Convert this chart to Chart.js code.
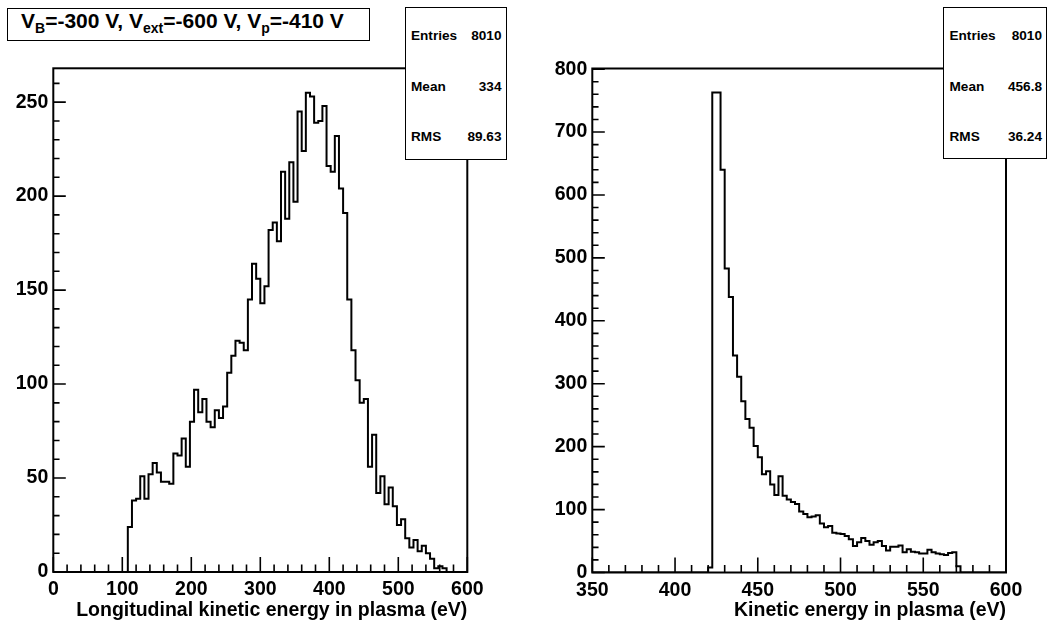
<!DOCTYPE html>
<html>
<head>
<meta charset="utf-8">
<script src="https://cdn.jsdelivr.net/npm/chart.js@4.4.0/dist/chart.umd.min.js"></script>
<style>
html,body{margin:0;padding:0;background:#fff;width:1048px;height:626px;overflow:hidden;font-family:"Liberation Sans",Arial,Helvetica,sans-serif;}
canvas{position:absolute;top:0;}
.box{position:absolute;background:#fff;border:1.5px solid #000;box-sizing:border-box;font-weight:bold;color:#000;z-index:2;}
.t{position:absolute;white-space:nowrap;line-height:1;}
.st{font-size:13.6px;}
</style>
</head>
<body>
<canvas id="cLeft" width="524" height="626" style="left:0"></canvas>
<canvas id="cRight" width="524" height="626" style="left:524px"></canvas>

<div class="box" style="left:7px;top:8px;width:363px;height:33px;">
  <span class="t" style="left:13px;top:1px;font-size:21px;">V<span style="font-size:14px;position:relative;top:5px;">B</span>=-300 V, V<span style="font-size:14px;position:relative;top:5px;">ext</span>=-600 V, V<span style="font-size:14px;position:relative;top:5px;">p</span>=-410 V</span>
</div>

<div class="box" style="left:404.5px;top:7px;width:102px;height:153px;" id="statsLeft"></div>
<div class="box" style="left:943px;top:7px;width:104px;height:152px;" id="statsRight"></div>

<script>
// ---------------- data ----------------
// Left histogram: longitudinal kinetic energy, 100 bins over [0, 600]
const leftRange = [0, 600];
const leftCounts = [
  0,0,0,0,0,0,0,0,0,0,
  0,0,0,0,0,0,0,0,24,38,
  39,51,39,52,58,53,48,48,47,63,
  62,71,56,80,97,85,92,80,77,86,
  82,88,106,115,123,122,118,145,164,156,
  143,152,182,186,176,213,188,218,197,245,
  224,255,253,239,240,248,216,213,232,204,
  191,145,118,102,90,92,56,73,42,51,
  36,45,35,25,28,18,13,17,11,14,
  10,7,2,3,2,0,0,0,0,0
];
const leftXTicks = [0, 100, 200, 300, 400, 500, 600];
const leftYTicks = [0, 50, 100, 150, 200, 250];
const leftYMax = 268;
const leftXTitle = 'Longitudinal kinetic energy in plasma (eV)';
const leftStats = [['Entries', '8010'], ['Mean', '334'], ['RMS', '89.63']];

// Right histogram: kinetic energy, 100 bins over [350, 600]
const rightRange = [350, 600];
const rightCounts = [
  0,0,0,0,0,0,0,0,0,0,
  0,0,0,0,0,0,0,0,0,0,
  0,0,0,0,0,0,0,0,8,763,
  763,640,483,438,345,311,272,244,230,201,
  183,156,161,140,123,153,122,116,112,109,
  97,93,88,89,91,78,72,74,63,62,
  61,58,53,42,48,55,50,44,48,50,
  42,35,41,41,43,32,37,33,32,30,
  30,36,32,30,29,28,31,32,10,0,
  0,0,0,0,0,0,0,0,0,0
];
const rightXTicks = [350, 400, 450, 500, 550, 600];
const rightYTicks = [0, 100, 200, 300, 400, 500, 600, 700, 800];
const rightYMax = 801;
const rightXTitle = 'Kinetic energy in plasma (eV)';
const rightStats = [['Entries', '8010'], ['Mean', '456.8'], ['RMS', '36.24']];

// ---------------- helpers ----------------
Chart.defaults.font.family = 'Liberation Sans, Arial, Helvetica, sans-serif';
Chart.defaults.font.size = 19.5;
Chart.defaults.font.weight = 'bold';
Chart.defaults.color = '#000';

function histPoints(range, counts) {
  const w = (range[1] - range[0]) / counts.length;
  const pts = counts.map((c, k) => ({x: range[0] + k * w, y: c}));
  pts.push({x: range[1], y: 0});
  return pts;
}

const rootFrame = {
  id: 'rootFrame',
  afterDatasetsDraw(chart, args, o) {
    const {ctx, chartArea: a, scales: {x, y}} = chart;
    ctx.save();
    ctx.strokeStyle = '#000';
    ctx.lineWidth = 1.6;
    ctx.beginPath();
    const nx = Math.round((x.max - x.min) / o.xMinor);
    for (let i = 0; i <= nx; i++) {
      const v = x.min + i * o.xMinor;
      const px = x.getPixelForValue(v);
      const major = o.xTicks.some(t => Math.abs(t - v) < 1e-6);
      const len = major ? o.xLen : o.xLen / 2;
      ctx.moveTo(px, a.bottom); ctx.lineTo(px, a.bottom - len);
    }
    const ny = Math.floor((y.max - y.min) / o.yMinor + 1e-9);
    for (let i = 0; i <= ny; i++) {
      const v = y.min + i * o.yMinor;
      const py = y.getPixelForValue(v);
      const major = o.yTicks.some(t => Math.abs(t - v) < 1e-6);
      const len = major ? o.yLen : o.yLen / 2;
      ctx.moveTo(a.left, py); ctx.lineTo(a.left + len, py);
    }
    ctx.stroke();
    ctx.lineWidth = 2;
    ctx.strokeRect(a.left, a.top, a.right - a.left, a.bottom - a.top);
    ctx.restore();
  }
};

function makeHist(id, range, counts, xTicks, yTicks, yMax, xTitle, geo) {
  const mk = () => ({family: 'Liberation Sans, Arial, Helvetica, sans-serif', weight: 'bold', size: 19.5});
  return new Chart(document.getElementById(id), {
    type: 'line',
    data: {datasets: [{
      data: histPoints(range, counts),
      stepped: 'before',
      borderColor: '#000',
      borderWidth: 2,
      pointRadius: 0,
      fill: false,
      tension: 0
    }]},
    options: {
      responsive: false,
      animation: false,
      events: [],
      layout: {padding: {top: geo.top, right: geo.right, left: 0, bottom: 0}},
      plugins: {
        legend: {display: false},
        tooltip: {enabled: false},
        rootFrame: {xTicks, yTicks, xMinor: geo.xMinor, yMinor: geo.yMinor, xLen: 15, yLen: 12.5}
      },
      scales: {
        x: {
          type: 'linear', min: range[0], max: range[1],
          afterBuildTicks: s => { s.ticks = xTicks.map(v => ({value: v})); },
          afterFit: s => { s.height = 626 - geo.bottom; },
          grid: {display: false, drawTicks: false}, border: {display: false},
          ticks: {font: mk(), color: '#000', padding: 6, maxRotation: 0, autoSkip: false},
          title: {display: true, text: xTitle, align: 'end', font: mk(), color: '#000', padding: {top: 0, bottom: 4}}
        },
        y: {
          type: 'linear', min: 0, max: yMax,
          afterBuildTicks: s => { s.ticks = yTicks.map(v => ({value: v})); },
          afterFit: s => { s.width = geo.left; },
          grid: {display: false, drawTicks: false}, border: {display: false},
          ticks: {font: mk(), color: '#000', padding: 5, autoSkip: false}
        }
      }
    },
    plugins: [rootFrame]
  });
}

makeHist('cLeft', leftRange, leftCounts, leftXTicks, leftYTicks, leftYMax, leftXTitle,
  {left: 53.3, top: 68.3, right: 524 - 467.3, bottom: 572, xMinor: 20, yMinor: 10});
makeHist('cRight', rightRange, rightCounts, rightXTicks, rightYTicks, rightYMax, rightXTitle,
  {left: 68.3, top: 68.5, right: 524 - 482, bottom: 572.5, xMinor: 10, yMinor: 20});

function fillStats(id, rows) {
  const box = document.getElementById(id);
  const baselines = [39.3, 90, 140];
  rows.forEach((r, i) => {
    const top = baselines[i] - 7 - 11.2;
    const l = document.createElement('span');
    l.className = 't st'; l.textContent = r[0];
    l.style.left = '5.5px'; l.style.top = top + 'px';
    const v = document.createElement('span');
    v.className = 't st'; v.textContent = r[1];
    v.style.right = '4px'; v.style.top = top + 'px';
    box.appendChild(l); box.appendChild(v);
  });
}
fillStats('statsLeft', leftStats);
fillStats('statsRight', rightStats);
</script>
</body>
</html>
